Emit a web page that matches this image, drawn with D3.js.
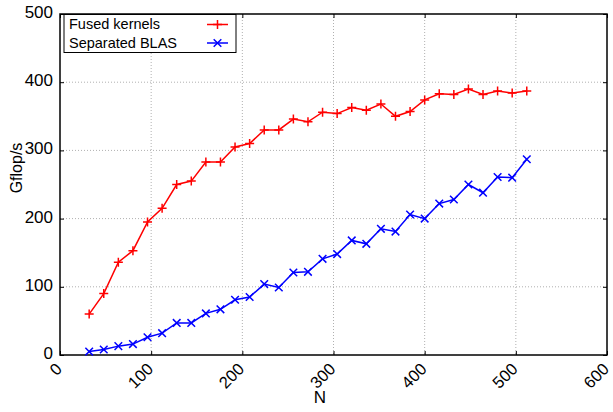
<!DOCTYPE html>
<html>
<head>
<meta charset="utf-8">
<script src="https://cdn.jsdelivr.net/npm/d3@7"></script>
<style>
  html, body { margin: 0; padding: 0; background: #fff; }
  svg { display: block; font-family: "Liberation Sans", Arial, Helvetica, sans-serif; }
</style>
</head>
<body>
<svg id="chart" width="613" height="412"></svg>
<script>
// Problem size N
const sizes = [32, 48, 64, 80, 96, 112, 128, 144, 160, 176, 192, 208, 224, 240, 256, 272,
               288, 304, 320, 336, 352, 368, 384, 400, 416, 432, 448, 464, 480, 496, 512];
// Gflop/s achieved by the fused kernels
const fusedKernels = [60, 90, 136, 153, 195, 215, 250, 255, 283, 283, 305, 310, 330, 330, 346, 342,
                      356, 354, 363, 359, 368, 350, 357, 374, 383, 382, 390, 382, 387, 384, 387];
// Gflop/s achieved by separate BLAS calls
const separatedBlas = [5, 8, 13, 16, 26, 32, 47, 47, 61, 67, 81, 85, 104, 99, 121, 122,
                       141, 148, 168, 163, 185, 181, 206, 200, 222, 228, 250, 238, 261, 260, 287];
const xTicks = [0, 100, 200, 300, 400, 500, 600];
const yTicks = [0, 100, 200, 300, 400, 500];
const seriesNames = ["Fused kernels", "Separated BLAS"];

const svg = d3.select("#chart");
const plotLeft = 60, plotRight = 607, plotTop = 14, plotBottom = 355;

const x = d3.scaleLinear().domain([0, 600]).range([plotLeft, plotRight]);
const y = d3.scaleLinear().domain([0, 500]).range([plotBottom, plotTop]);

// dotted grid
const grid = svg.append("g");
grid.selectAll(".gx").data(xTicks.slice(1, -1)).join("line")
  .attr("x1", d => x(d)).attr("x2", d => x(d))
  .attr("y1", plotTop).attr("y2", plotBottom)
  .attr("stroke", "#b0b0b0").attr("stroke-width", 1).attr("stroke-dasharray", "1,2");
grid.selectAll(".gy").data(yTicks.slice(1, -1)).join("line")
  .attr("x1", plotLeft).attr("x2", plotRight)
  .attr("y1", d => y(d)).attr("y2", d => y(d))
  .attr("stroke", "#b0b0b0").attr("stroke-width", 1).attr("stroke-dasharray", "1,2");

// axes with inward ticks on all four sides
const tickLen = 4;
const axB = svg.append("g").attr("transform", `translate(0,${plotBottom})`)
  .call(d3.axisBottom(x).tickValues(xTicks).tickSize(-tickLen).tickFormat(""));
const axT = svg.append("g").attr("transform", `translate(0,${plotTop})`)
  .call(d3.axisTop(x).tickValues(xTicks).tickSize(-tickLen).tickFormat(""));
const axL = svg.append("g").attr("transform", `translate(${plotLeft},0)`)
  .call(d3.axisLeft(y).tickValues(yTicks).tickSize(-tickLen).tickFormat(""));
const axR = svg.append("g").attr("transform", `translate(${plotRight},0)`)
  .call(d3.axisRight(y).tickValues(yTicks).tickSize(-tickLen).tickFormat(""));
[axB, axT, axL, axR].forEach(g => {
  g.select(".domain").remove();
  g.selectAll(".tick line").attr("stroke", "#000").attr("stroke-width", 1);
});

// frame
svg.append("rect")
  .attr("x", plotLeft).attr("y", plotTop)
  .attr("width", plotRight - plotLeft).attr("height", plotBottom - plotTop)
  .attr("fill", "none").attr("stroke", "#000").attr("stroke-width", 1.5);

// tick labels
svg.append("g").selectAll("text").data(yTicks).join("text")
  .attr("x", plotLeft - 7).attr("y", d => y(d) + 4)
  .attr("text-anchor", "end").attr("font-size", 17).attr("fill", "#000")
  .text(d => d);
svg.append("g").selectAll("text").data(xTicks).join("text")
  .attr("transform", d => `translate(${x(d) + 3},${plotBottom + 15}) rotate(-45)`)
  .attr("text-anchor", "end").attr("font-size", 16.5).attr("fill", "#000")
  .text(d => d);

// axis titles
svg.append("text")
  .attr("x", 320).attr("y", 403)
  .attr("text-anchor", "middle").attr("font-size", 17).attr("fill", "#000")
  .text("N");
svg.append("text")
  .attr("transform", `translate(22,168) rotate(-90)`)
  .attr("text-anchor", "middle").attr("font-size", 16).attr("fill", "#000")
  .text("Gflop/s");

// series
const series = [
  { name: seriesNames[0], values: fusedKernels, color: "#ff0000", marker: "plus" },
  { name: seriesNames[1], values: separatedBlas, color: "#0000ff", marker: "cross" }
];
const markerPath = (kind, r) => kind === "plus"
  ? `M${-r},0H${r}M0,${-r}V${r}`
  : `M${-r},${-r}L${r},${r}M${-r},${r}L${r},${-r}`;

const line = d3.line().x(d => x(d[0])).y(d => y(d[1]));
series.forEach(s => {
  const pts = sizes.map((n, i) => [n, s.values[i]]);
  svg.append("path").datum(pts)
    .attr("d", line).attr("fill", "none")
    .attr("stroke", s.color).attr("stroke-width", 1.5);
  svg.append("g").selectAll("path").data(pts).join("path")
    .attr("transform", d => `translate(${x(d[0])},${y(d[1])})`)
    .attr("d", markerPath(s.marker, s.marker === "plus" ? 4.5 : 3.8))
    .attr("fill", "none").attr("stroke", s.color).attr("stroke-width", 1.5);
});

// legend
const legend = svg.append("g");
legend.append("rect")
  .attr("x", 64).attr("y", 14.5).attr("width", 172).attr("height", 38)
  .attr("fill", "#fff").attr("stroke", "#000").attr("stroke-width", 1);
series.forEach((s, i) => {
  const ly = 24.5 + i * 18.5;
  legend.append("text")
    .attr("x", 69).attr("y", ly + 4.5)
    .attr("font-size", 14.5).attr("fill", "#000")
    .text(s.name);
  legend.append("line")
    .attr("x1", 207).attr("x2", 228).attr("y1", ly).attr("y2", ly)
    .attr("stroke", s.color).attr("stroke-width", 1.5);
  legend.append("path")
    .attr("transform", `translate(217.5,${ly})`)
    .attr("d", markerPath(s.marker, s.marker === "plus" ? 4.5 : 3.8))
    .attr("fill", "none").attr("stroke", s.color).attr("stroke-width", 1.5);
});
</script>
</body>
</html>
